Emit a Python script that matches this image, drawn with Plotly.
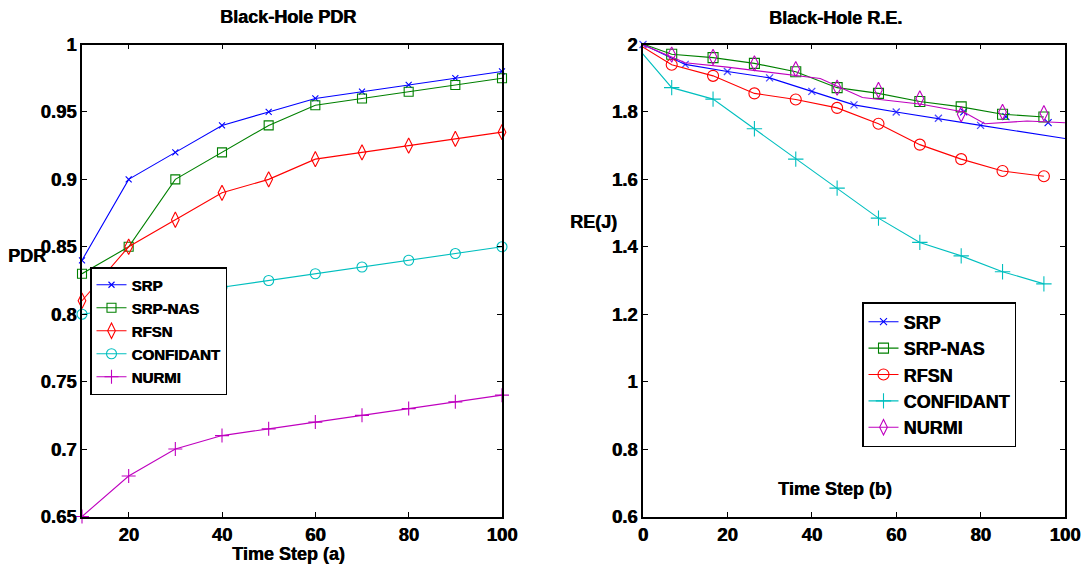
import plotly.graph_objects as go

# ---------------- Left chart: Black-Hole PDR ----------------
pdr_time = [10, 20, 30, 40, 50, 60, 70, 80, 90, 100]
pdr_srp = [0.84, 0.90, 0.92, 0.94, 0.95, 0.96, 0.965, 0.97, 0.975, 0.98]
pdr_srp_nas = [0.83, 0.85, 0.90, 0.92, 0.94, 0.955, 0.96, 0.965, 0.97, 0.975]
pdr_rfsn = [0.81, 0.85, 0.87, 0.89, 0.90, 0.915, 0.92, 0.925, 0.93, 0.935]
pdr_confidant = [0.80, 0.805, 0.81, 0.82, 0.825, 0.83, 0.835, 0.84, 0.845, 0.85]
pdr_nurmi = [0.65, 0.68, 0.70, 0.71, 0.715, 0.72, 0.725, 0.73, 0.735, 0.74]

pdr_yticks = [0.65, 0.7, 0.75, 0.8, 0.85, 0.9, 0.95, 1.0]
pdr_yticklabels = ["0.65", "0.7", "0.75", "0.8", "0.85", "0.9", "0.95", "1"]
pdr_xticks = [20, 40, 60, 80, 100]

# ---------------- Right chart: Black-Hole R.E. ----------------
re_time = [-3, 6.8, 16.6, 26.4, 36.2, 46, 55.8, 65.6, 75.4, 85.2, 95]
re_srp_nas = [2.015, 1.971, 1.961, 1.944, 1.919, 1.872, 1.855, 1.831, 1.815, 1.793, 1.785]
re_rfsn = [2.015, 1.94, 1.907, 1.855, 1.837, 1.812, 1.765, 1.703, 1.66, 1.625, 1.609]
re_confidant = [2.015, 1.872, 1.838, 1.75, 1.66, 1.574, 1.485, 1.413, 1.373, 1.326, 1.29]
re_nurmi_marks = [2.015, 1.97, 1.963, 1.944, 1.927, 1.872, 1.865, 1.84, 1.793, 1.80, 1.796]

re_srp_time = [0, 10, 20, 30, 40, 50, 60, 70, 80, 100]
re_srp = [2.0, 1.941, 1.92, 1.901, 1.861, 1.821, 1.80, 1.781, 1.76, 1.721]
re_srp_marked = [True, True, True, True, True, True, True, True, True, False]
re_srp_extra_time = [76, 86, 96]
re_srp_extra = [1.80, 1.786, 1.768]

re_nurmi_line_time = [-3, 10, 20, 30, 42, 52, 66, 76, 81, 91, 100]
re_nurmi_line = [2.015, 1.946, 1.933, 1.918, 1.899, 1.843, 1.823, 1.80, 1.765, 1.773, 1.768]

re_yticks = [0.6, 0.8, 1.0, 1.2, 1.4, 1.6, 1.8, 2.0]
re_yticklabels = ["0.6", "0.8", "1", "1.2", "1.4", "1.6", "1.8", "2"]
re_xticks = [0, 20, 40, 60, 80, 100]

BLUE, GREEN, RED, CYAN, MAGENTA = "#0000FF", "#008000", "#FF0000", "#00BFBF", "#BF00BF"

FONT = "Liberation Sans, Arial, sans-serif"
HEAVY = "0.6px 0px 0px black"

fig = go.Figure()

def add(x, y, name, color, symbol, size, xa, ya, legend, showlegend=True, mode="lines+markers"):
    fig.add_trace(go.Scatter(
        x=x, y=y, name=name, mode=mode,
        line=dict(color=color, width=1.1),
        marker=dict(symbol=symbol, size=size, color=color, line=dict(color=color, width=1.1)),
        xaxis=xa, yaxis=ya, legend=legend, legendgroup=legend + name,
        showlegend=showlegend, cliponaxis=False,
    ))

# left
add(pdr_time, pdr_srp, "SRP", BLUE, "x-thin-open", 6, "x", "y", "legend")
add(pdr_time, pdr_srp_nas, "SRP-NAS", GREEN, "square-open", 9, "x", "y", "legend")
add(pdr_time, pdr_rfsn, "RFSN", RED, "diamond-tall-open", 11, "x", "y", "legend")
add(pdr_time, pdr_confidant, "CONFIDANT", CYAN, "circle-open", 10, "x", "y", "legend")
add(pdr_time, pdr_nurmi, "NURMI", MAGENTA, "cross-thin-open", 10, "x", "y", "legend")

# right
srp_sizes = [7 if m else 0 for m in re_srp_marked]
fig.add_trace(go.Scatter(
    x=re_srp_time, y=re_srp, name="SRP", mode="lines+markers",
    line=dict(color=BLUE, width=1.1),
    marker=dict(symbol="x-thin-open", size=srp_sizes, color=BLUE, line=dict(color=BLUE, width=1.3)),
    xaxis="x2", yaxis="y2", legend="legend2", showlegend=False, cliponaxis=False,
))
add(re_srp_extra_time, re_srp_extra, "SRP", BLUE, "x-thin-open", 7, "x2", "y2", "legend2",
    showlegend=False, mode="markers")
add([None], [None], "SRP", BLUE, "x-thin-open", 7, "x2", "y2", "legend2")
add(re_time, re_srp_nas, "SRP-NAS", GREEN, "square-open", 10, "x2", "y2", "legend2")
add(re_time, re_rfsn, "RFSN", RED, "circle-open", 11, "x2", "y2", "legend2")
add(re_time, re_confidant, "CONFIDANT", CYAN, "cross-thin-open", 11, "x2", "y2", "legend2")
add(re_nurmi_line_time, re_nurmi_line, "NURMI", MAGENTA, "diamond-tall-open", 11, "x2", "y2", "legend2",
    showlegend=False, mode="lines")
add(re_time, re_nurmi_marks, "NURMI", MAGENTA, "diamond-tall-open", 11, "x2", "y2", "legend2",
    showlegend=False, mode="markers")
add([None], [None], "NURMI", MAGENTA, "diamond-tall-open", 11, "x2", "y2", "legend2")

tick_font = dict(family=FONT, size=18.5, color="black", weight="bold", shadow=HEAVY)
axis_common = dict(showline=True, linecolor="black", linewidth=1.6, mirror="ticks",
                   ticks="inside", ticklen=5, tickcolor="black", tickwidth=1,
                   showgrid=False, zeroline=False, tickfont=tick_font, automargin=False)

ydom = [1 - 516.5 / 567, 1 - 44.5 / 567]
fig.update_layout(
    width=1088, height=567, margin=dict(l=0, r=0, t=0, b=0, autoexpand=False),
    paper_bgcolor="white", plot_bgcolor="white",
    xaxis=dict(domain=[82 / 1088, 502 / 1088], range=[10, 100], tickvals=pdr_xticks,
               anchor="y", **axis_common),
    yaxis=dict(domain=ydom, range=[0.65, 1.0], tickvals=pdr_yticks, ticktext=pdr_yticklabels,
               anchor="x", **axis_common),
    xaxis2=dict(domain=[643 / 1088, 1065 / 1088], range=[0, 100], tickvals=re_xticks,
                anchor="y2", **axis_common),
    yaxis2=dict(domain=ydom, range=[0.6, 2.0], tickvals=re_yticks, ticktext=re_yticklabels,
                anchor="x2", **axis_common),
    legend=dict(x=90 / 1088, y=1 - 267 / 567, xanchor="left", yanchor="top",
                bgcolor="white", bordercolor="black", borderwidth=1.5,
                font=dict(family=FONT, size=15, color="black", weight="bold", shadow=HEAVY),
                traceorder="grouped", tracegroupgap=0.5),
    legend2=dict(x=862 / 1088, y=1 - 302 / 567, xanchor="left", yanchor="top",
                 bgcolor="white", bordercolor="black", borderwidth=1.5,
                 font=dict(family=FONT, size=18, color="black", weight="bold", shadow=HEAVY),
                 traceorder="grouped", tracegroupgap=0),
    showlegend=True,
)

label_font = dict(family=FONT, size=18, color="black", weight="bold", shadow=HEAVY)
annots = [
    ("Black-Hole PDR", 288, 17),
    ("Black-Hole R.E.", 835, 18),
    ("PDR", 27, 256),
    ("RE(J)", 593, 222),
    ("Time Step (a)", 288, 554),
    ("Time Step (b)", 835, 489),
]
for text, px, py in annots:
    fig.add_annotation(text=text, x=px / 1088, y=1 - py / 567, xref="paper", yref="paper",
                       xanchor="center", yanchor="middle", showarrow=False, font=label_font)

fig.write_html("out.html")
